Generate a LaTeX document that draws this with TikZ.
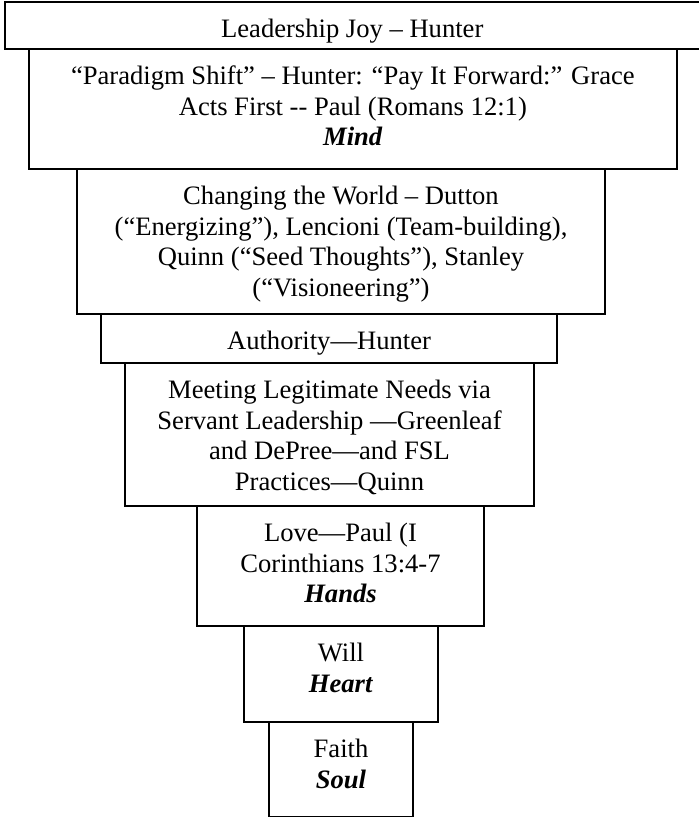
\documentclass[tikz,border=0pt]{standalone}
\usepackage{fontspec}
\setmainfont{Liberation Serif}
\newcommand{\keyword}[1]{\textbf{\textit{#1}}}
\begin{document}
\begin{tikzpicture}[x=1pt,y=1pt]

	% Styles
	\tikzstyle{tier} = [draw,line width=1pt,anchor=north west,align=center,inner sep=0pt,
		font=\fontsize{13.3pt}{15.3pt}\selectfont]

	\useasboundingbox (0,0) rectangle (349.5,-408.5);

	% Stufen von oben nach unten
	\node at (1.75,-0.5) [tier,minimum width=347.75pt,text height=17.75pt,text depth=5.75pt] (joy)
		{Leadership Joy – Hunter};
	\node at (13.85,-24) [tier,minimum width=324.15pt,text height=48.35pt,text depth=11.65pt] (mind)
		{“Paradigm Shift” – Hunter: “Pay It Forward:” Grace\\
		 Acts First -{}- Paul (Romans 12:1)\\
		 \keyword{Mind}};
	\node at (38,-84) [tier,minimum width=264pt,text height=63.65pt,text depth=8.85pt] (world)
		{Changing the World – Dutton\\
		 (“Energizing”), Lencioni (Team-building),\\
		 Quinn (“Seed Thoughts”), Stanley\\
		 (“Visioneering”)};
	\node at (50,-156.5) [tier,minimum width=228pt,text height=17.75pt,text depth=6.75pt] (authority)
		{Authority—Hunter};
	\node at (62,-181) [tier,minimum width=204.5pt,text height=63.65pt,text depth=7.85pt] (needs)
		{Meeting Legitimate Needs via\\
		 Servant Leadership —Greenleaf\\
		 and DePree—and FSL\\
		 Practices—Quinn};
	\node at (98,-252.5) [tier,minimum width=143.5pt,text height=48.35pt,text depth=11.65pt] (love)
		{Love—Paul (I\\
		 Corinthians 13:4-7\\
		 \keyword{Hands}};
	\node at (121.5,-312.5) [tier,minimum width=97pt,text height=33.05pt,text depth=14.95pt] (will)
		{Will\\ \keyword{Heart}};
	\node at (134,-360.5) [tier,minimum width=72pt,text height=33.05pt,text depth=14.45pt] (faith)
		{Faith\\ \keyword{Soul}};

\end{tikzpicture}
\end{document}
